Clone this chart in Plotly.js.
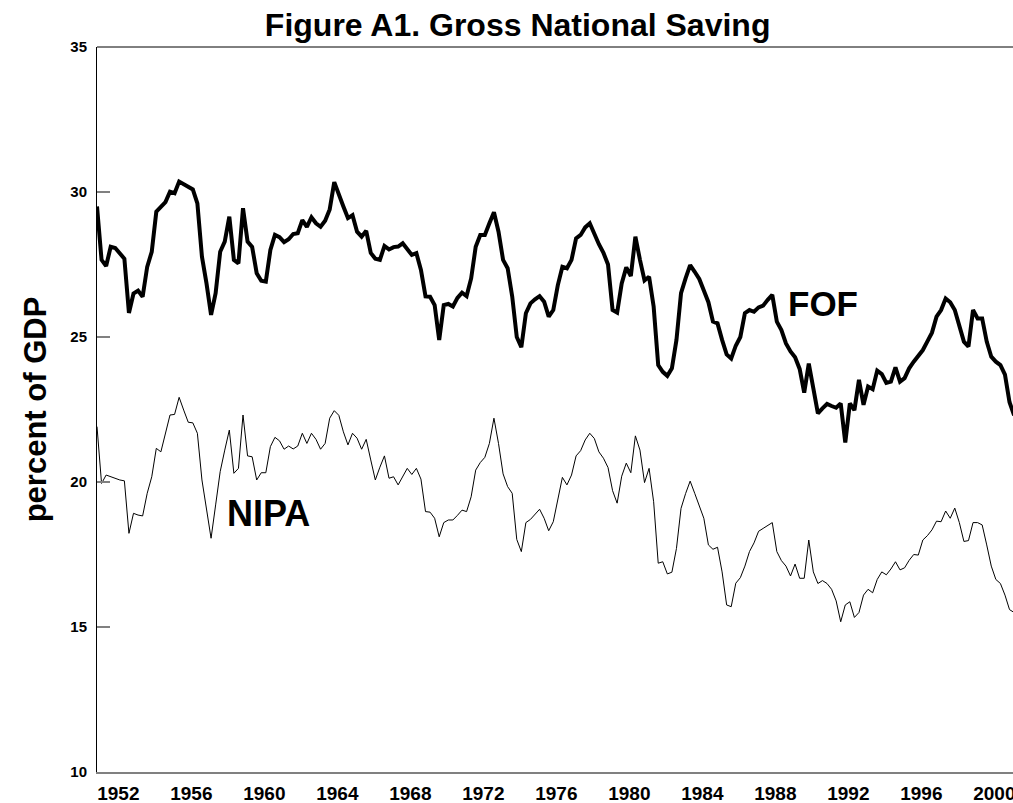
<!DOCTYPE html>
<html>
<head>
<meta charset="utf-8">
<script src="https://cdn.plot.ly/plotly-3.0.1.min.js"></script>
<style>html,body{margin:0;padding:0;background:#fff;}#chart{width:1013px;height:803px;}</style>
</head>
<body>
<div id="chart"></div>
<script>
// Quarterly series starting 1951 Q1 (percent of GDP)
const startYear = 1951;
const fof = [
29.5,27.66,27.45,28.11,28.07,27.9,27.7,25.83,26.5,26.6,26.39,27.42,27.94,29.32,29.5,29.65,
30.01,29.96,30.36,30.28,30.18,30.09,29.61,27.77,26.85,25.76,26.51,27.94,28.29,29.15,27.66,27.54,
29.44,28.29,28.11,27.2,26.94,26.91,28.0,28.52,28.44,28.27,28.37,28.55,28.58,29.03,28.8,29.13,
28.92,28.8,29.01,29.4,30.34,29.96,29.5,29.1,29.2,28.63,28.46,28.66,27.9,27.7,27.66,28.14,
28.02,28.1,28.12,28.23,28.0,27.83,27.89,27.31,26.4,26.39,26.1,24.9,26.1,26.14,26.05,26.35,
26.53,26.41,27.02,28.11,28.52,28.52,28.92,29.3,28.63,27.66,27.37,26.4,25.0,24.65,25.82,26.16,
26.3,26.41,26.22,25.7,25.93,26.79,27.42,27.37,27.66,28.4,28.52,28.78,28.92,28.55,28.2,27.9,
27.5,25.93,25.84,26.85,27.4,27.1,28.46,27.66,26.95,27.08,26.05,24.03,23.8,23.66,23.92,24.9,
26.51,27.02,27.48,27.25,27.0,26.6,26.2,25.53,25.47,24.9,24.4,24.26,24.7,25.0,25.82,25.93,
25.87,26.02,26.08,26.28,26.45,25.53,25.24,24.78,24.5,24.3,23.9,23.08,24.08,23.23,22.37,22.54,
22.69,22.62,22.56,22.71,21.36,22.71,22.48,23.52,22.66,23.29,23.2,23.84,23.72,23.42,23.46,23.95,
23.46,23.58,23.92,24.15,24.35,24.55,24.85,25.15,25.7,25.93,26.33,26.2,25.93,25.41,24.84,24.67,
25.93,25.64,25.64,24.84,24.32,24.15,24.03,23.7,22.75,22.3
];
const nipa = [
21.91,19.95,20.24,20.18,20.13,20.07,20.04,18.23,18.92,18.86,18.83,19.61,20.18,21.16,21.04,21.68,
22.31,22.33,22.92,22.48,22.06,22.04,21.68,20.07,19.09,18.06,19.21,20.36,21.1,21.79,20.3,20.47,
22.31,20.9,20.87,20.07,20.32,20.32,21.22,21.54,21.42,21.13,21.24,21.14,21.24,21.68,21.33,21.68,
21.47,21.13,21.33,22.2,22.46,22.3,21.73,21.28,21.68,21.51,21.13,21.47,20.76,20.07,20.51,20.9,
20.13,20.18,19.9,20.18,20.47,20.26,20.47,20.1,18.98,18.96,18.75,18.11,18.6,18.69,18.69,18.85,
19.03,18.98,19.49,20.41,20.67,20.85,21.33,22.2,21.33,20.28,19.84,19.61,18.02,17.6,18.6,18.71,
18.9,19.06,18.75,18.32,18.63,19.38,20.16,19.9,20.24,20.9,21.08,21.45,21.68,21.5,21.04,20.82,
20.5,19.7,19.27,20.2,20.65,20.32,21.59,21.1,19.98,20.47,19.32,17.2,17.25,16.83,16.89,17.71,
19.09,19.6,20.03,19.61,19.2,18.75,17.83,17.68,17.75,16.9,15.76,15.7,16.51,16.7,17.1,17.6,
17.9,18.3,18.4,18.5,18.6,17.6,17.29,17.1,16.76,17.17,16.68,16.68,18.0,16.9,16.5,16.6,
16.5,16.3,15.9,15.18,15.76,15.87,15.33,15.5,16.1,16.3,16.18,16.64,16.9,16.8,17.0,17.25,
16.97,17.04,17.3,17.5,17.48,18.0,18.15,18.35,18.65,18.63,19.0,18.75,19.1,18.6,17.95,17.98,
18.6,18.6,18.52,17.83,17.1,16.64,16.5,16.1,15.6,15.5
];
const tickYears = [1952,1956,1960,1964,1968,1972,1976,1980,1984,1988,1992,1996,2000];
const yTicks = [10,15,20,25,30,35];

const quarters = fof.map((_, i) => startYear + i / 4);
const FONT = "Liberation Sans, Arial, Helvetica, sans-serif";

const traces = [
  {x: quarters, y: fof, type: 'scatter', mode: 'lines', name: 'FOF',
   line: {color: '#000', width: 4}, hoverinfo: 'skip'},
  {x: quarters.slice(0, nipa.length), y: nipa, type: 'scatter', mode: 'lines', name: 'NIPA',
   line: {color: '#000', width: 1}, hoverinfo: 'skip'}
];

const layout = {
  width: 1013, height: 803,
  margin: {l: 97, r: 0, t: 47, b: 31},
  paper_bgcolor: '#fff', plot_bgcolor: '#fff',
  showlegend: false,
  font: {family: FONT, color: '#000'},
  title: {text: '<b>Figure A1. Gross National Saving</b>', x: 0.511, xanchor: 'center', xref: 'container',
          y: 0.969, yanchor: 'middle', yref: 'container', font: {size: 32, family: FONT, color: '#000'}},
  xaxis: {
    range: [1951, 2001.19], showgrid: false, zeroline: false,
    showline: true, linecolor: '#808080', linewidth: 2,
    ticks: '', tickvals: tickYears.map(y => y + 0.17), ticktext: tickYears.map(String),
    ticklabelstandoff: 3, ticklabeloverflow: 'allow',
    tickfont: {size: 19, family: FONT, color: '#000', weight: 'bold'}
  },
  yaxis: {
    range: [10, 35], showgrid: false, zeroline: false,
    showline: true, linecolor: '#000', linewidth: 1,
    ticks: 'inside', ticklen: 13, tickcolor: '#808080', tickwidth: 2,
    ticklabelstandoff: 6,
    tickvals: yTicks, ticktext: yTicks.map(String),
    tickfont: {size: 15, family: FONT, color: '#000', weight: 'bold'},
    title: {text: '<b>percent of GDP</b>', font: {size: 31, family: FONT, color: '#000'}, standoff: 14}
  },
  shapes: [
    {type: 'line', xref: 'paper', yref: 'paper', x0: 0, x1: 1, y0: 1, y1: 1,
     line: {color: '#000', width: 1}}
  ],
  annotations: [
    {text: '<b>FOF</b>', x: 1990.78, y: 26.17, xref: 'x', yref: 'y', showarrow: false,
     font: {size: 35, family: FONT, color: '#000'}},
    {text: '<b>NIPA</b>', x: 1960.37, y: 18.9, xref: 'x', yref: 'y', showarrow: false,
     font: {size: 36, family: FONT, color: '#000'}}
  ]
};

Plotly.newPlot('chart', traces, layout, {displayModeBar: false, staticPlot: true});
</script>
</body>
</html>
